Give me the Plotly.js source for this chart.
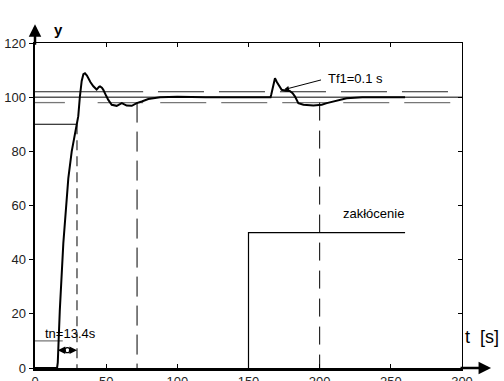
<!DOCTYPE html>
<html>
<head>
<meta charset="utf-8">
<script src="https://cdn.plot.ly/plotly-3.0.1.min.js"></script>
<style>html,body{margin:0;padding:0;background:#fff;}#chart{width:504px;height:381px;}</style>
</head>
<body>
<div id="chart"></div>
<script>
// ---- data ----
const respT = [0, 15.5, 16, 17.4, 19.9, 23.4, 25.8, 28.8, 29.5, 30.4, 31.5, 32.8, 34, 35.1, 36.5, 37.4, 39, 41, 43.3, 45, 45.7, 47, 48, 50, 51.5, 53.9, 57.4, 61, 64.4, 68, 71.5, 75, 79.6, 87.8, 100, 120, 140, 165.5, 166, 167.5, 168.6, 170, 171, 173.3, 176, 179, 181, 182.7, 185, 188.6, 195.6, 201.5, 205, 209.6, 219, 230, 260];
const respY = [0, 0, 2, 21, 46, 70, 80, 88, 90, 93, 100, 106, 108.5, 108.8, 108, 107, 105.5, 104, 102.8, 103.8, 104, 103.5, 102.7, 100.5, 99, 97.2, 96.8, 97.8, 96.9, 96.8, 97.8, 98.4, 99.3, 100, 100.2, 100, 100, 100, 101, 105, 107, 105.5, 104.5, 102.7, 102.4, 102.3, 101.5, 100.2, 97.8, 97.2, 96.9, 97.2, 97.8, 98.4, 99.6, 100, 100];

const distT = [150, 150, 260];
const distY = [0, 50, 50];

const setT = [0, 300];
const setY = [100, 100];
const upperSolidT = [0, 76];
const upperDashT = [86.4, 300];
const upperY = [102, 102];
const lowerSeg1T = [0, 21];
const lowerSeg2T = [44, 76];
const lowerDashT = [88, 300];
const lowerY = [98, 98];

const line90T = [0, 29.5];
const line90Y = [90, 90];
const line10T = [0, 19.5];
const line10Y = [10, 10];
const vert1T = [29.5, 29.5];
const vert1Y = [90, 0];
const vert2T = [71.7, 71.7];
const vert2Y = [98, 0];
const vert3T = [200, 200];
const vert3Y = [98, 0];

const tnStart = 16, tnEnd = 29.5, tnLevel = 6.6;
const xTicks = [0, 50, 100, 150, 200, 250, 300];
const yTicks = [0, 20, 40, 60, 80, 100, 120];

const FONT = 'Liberation Sans, Arial, sans-serif';

function ln(x, y, color, width, dash) {
  return {x: x, y: y, type: 'scatter', mode: 'lines', hoverinfo: 'skip', showlegend: false,
          line: {color: color, width: width, dash: dash || 'solid'}};
}

const traces = [
  ln(setT, setY, '#000', 1),
  ln(upperSolidT, upperY, '#222', 1),
  ln(upperDashT, upperY, '#222', 1, '46px,15px'),
  ln(lowerSeg1T, lowerY, '#777', 1.3),
  ln(lowerSeg2T, lowerY, '#777', 1.3),
  ln(lowerDashT, lowerY, '#777', 1.3, '46px,15px'),
  ln(line90T, line90Y, '#000', 1),
  ln(line10T, line10Y, '#555', 1),
  ln(vert1T, vert1Y, '#000', 1, '10px,6px'),
  ln(vert2T, vert2Y, '#000', 1, '20px,9px'),
  ln(vert3T, vert3Y, '#000', 1, '18px,10px'),
  ln(distT, distY, '#000', 1.2),
  ln(respT, respY, '#000', 2),
  {x: [(tnStart + tnEnd) / 2], y: [tnLevel], type: 'scatter', mode: 'markers', hoverinfo: 'skip', showlegend: false,
   marker: {symbol: 'circle', size: 5, color: '#fff', line: {color: '#000', width: 1.3}}},
  {x: [], y: [], xaxis: 'x2', yaxis: 'y2', type: 'scatter', showlegend: false}
];

const axBase = {showgrid: false, zeroline: false, tickcolor: '#000', ticklen: 4,
                tickfont: {family: FONT, size: 13, color: '#222'}};

const layout = {
  width: 504, height: 381,
  margin: {l: 35, r: 42, t: 43, b: 13, pad: 0},
  paper_bgcolor: '#fff', plot_bgcolor: '#fff',
  showlegend: false,
  xaxis: Object.assign({}, axBase, {range: [0, 300], tickvals: xTicks, ticktext: xTicks.map(String),
    ticks: 'inside', showline: true, linecolor: '#000', linewidth: 2.5}),
  yaxis: Object.assign({}, axBase, {range: [0, 120], tickvals: yTicks, ticktext: yTicks.map(String),
    ticks: 'outside', showline: true, linecolor: '#000', linewidth: 2.5}),
  xaxis2: Object.assign({}, axBase, {range: [0, 300], tickvals: xTicks, overlaying: 'x', side: 'top',
    ticks: 'inside', showticklabels: false, showline: true, linecolor: '#000', linewidth: 1}),
  yaxis2: Object.assign({}, axBase, {range: [0, 120], tickvals: yTicks, overlaying: 'y', side: 'right',
    ticks: 'inside', showticklabels: false, showline: true, linecolor: '#000', linewidth: 1}),
  annotations: [
    // axis arrows
    {xref: 'paper', yref: 'paper', x: 0, y: 1.058, ax: 0, ay: 22, text: '', showarrow: true,
     arrowhead: 2, arrowsize: 1, arrowwidth: 2.5, arrowcolor: '#000'},
    {xref: 'paper', yref: 'paper', x: 1.068, y: 0, ax: -32, ay: 0, text: '', showarrow: true,
     arrowhead: 2, arrowsize: 1, arrowwidth: 2.5, arrowcolor: '#000'},
    // axis labels
    {xref: 'paper', yref: 'paper', x: 0.04, y: 1.074, text: '<b>y</b>', showarrow: false,
     font: {family: FONT, size: 15, color: '#000'}},
    {xref: 'paper', yref: 'paper', x: 1.003, y: 0.058, xanchor: 'left', text: 't  [s]', showarrow: false,
     font: {family: FONT, size: 18, color: '#000'}},
    // tn
    {xref: 'x', yref: 'y', x: 24.6, y: 12.9, text: 'tn=13.4s', showarrow: false,
     font: {family: FONT, size: 13, color: '#000'}},
    {xref: 'x', yref: 'y', x: tnStart, y: tnLevel, axref: 'x', ayref: 'y', ax: (tnStart + tnEnd) / 2, ay: tnLevel,
     text: '', showarrow: true, arrowhead: 2, arrowsize: 1, arrowwidth: 1.5, arrowcolor: '#000'},
    {xref: 'x', yref: 'y', x: tnEnd, y: tnLevel, axref: 'x', ayref: 'y', ax: (tnStart + tnEnd) / 2, ay: tnLevel,
     text: '', showarrow: true, arrowhead: 2, arrowsize: 1, arrowwidth: 1.5, arrowcolor: '#000'},
    // Tf1
    {xref: 'x', yref: 'y', x: 225.5, y: 107, text: 'Tf1=0.1 s', showarrow: false,
     font: {family: FONT, size: 13, color: '#000'}},
    {xref: 'x', yref: 'y', x: 175, y: 102.8, axref: 'x', ayref: 'y', ax: 202, ay: 106.5,
     text: '', showarrow: true, arrowhead: 2, arrowsize: 1, arrowwidth: 1, arrowcolor: '#000'},
    // disturbance label
    {xref: 'x', yref: 'y', x: 237.5, y: 57.2, text: 'zakłócenie', showarrow: false,
     font: {family: FONT, size: 13, color: '#000'}}
  ]
};

Plotly.newPlot('chart', traces, layout, {staticPlot: true, displayModeBar: false});
</script>
</body>
</html>
